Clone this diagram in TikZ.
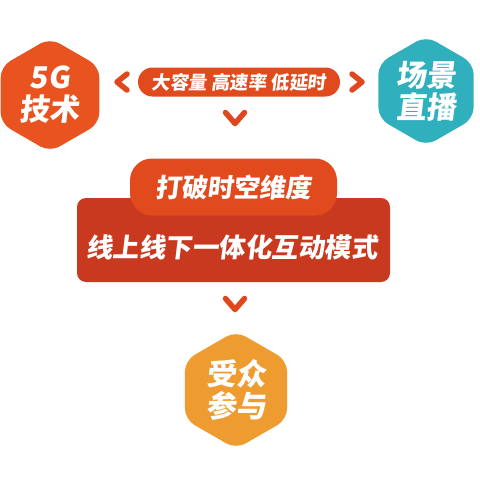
\documentclass[tikz,border=0pt]{standalone}
\usepackage{fontspec}
\newfontfamily\cjk[FakeSlant=0.12]{Noto Sans CJK SC}[BoldFont={Noto Sans CJK SC Black}]
\usetikzlibrary{calc}
\definecolor{hexred}{HTML}{E8531F}
\definecolor{hexteal}{HTML}{2FB0BC}
\definecolor{hexorange}{HTML}{EE9B2F}
\definecolor{pillred}{HTML}{E04A1D}
\definecolor{boxred}{HTML}{C9391F}
\definecolor{chev}{HTML}{E0471E}
\tikzset{
  hexfill/.style={rounded corners=11pt},
  hextext/.style={text=white, font=\cjk\bfseries\fontsize{30}{35}\selectfont, align=center, inner sep=0pt},
  chevron/.style={draw=chev, line width=5.5pt, line cap=round, line join=round},
}
\newcommand{\myhex}[4]{% center x, center y, radius, color
  \fill[#4, hexfill] ($(#1,#2)+(90:#3)$) -- ($(#1,#2)+(150:#3)$) -- ($(#1,#2)+(210:#3)$) -- ($(#1,#2)+(270:#3)$) -- ($(#1,#2)+(330:#3)$) -- ($(#1,#2)+(30:#3)$) -- cycle;}
\begin{document}
\begin{tikzpicture}[x=1pt,y=-1pt]
\useasboundingbox[fill=white] (0,0) rectangle (480,480);
% hexagons
\myhex{50}{95}{57}{hexred}
\myhex{426}{91}{55}{hexteal}
\myhex{236}{390}{59}{hexorange}
\node[hextext] (tech) at (50,95) {5G\\[-3pt]技术};
\node[hextext] (scene) at (426,91) {场景\\[-3pt]直播};
\node[hextext] (aud) at (236,390) {受众\\[-3pt]参与};
% top pill
\node[fill=pillred, rounded corners=14.5pt, minimum width=202pt, minimum height=29pt, inner sep=0pt,
  text=white, font=\cjk\bfseries\fontsize{18.5}{22}\selectfont] (feat) at (239,82) {大容量 高速率 低延时};
% chevrons
\coordinate (lc) at (117,82);
\coordinate (rc) at (362,82);
\coordinate (dc1) at (235,119);
\coordinate (dc2) at (235,305);
\draw[chevron] ($(lc)+(10,-8)$) -- (lc) -- ($(lc)+(10,8)$);
\draw[chevron] ($(rc)+(-10,-8)$) -- (rc) -- ($(rc)+(-10,8)$);
\draw[chevron] ($(dc1)+(-9.5,-6.5)$) -- ($(dc1)+(0,4.5)$) -- ($(dc1)+(9.5,-6.5)$);
\draw[chevron] ($(dc2)+(-9.5,-6.5)$) -- ($(dc2)+(0,4.5)$) -- ($(dc2)+(9.5,-6.5)$);
% middle block
\node[fill=boxred, rounded corners=9pt, minimum width=313pt, minimum height=84pt, inner sep=0pt] (box) at (233.5,240) {};
\node[fill=pillred, rounded corners=22pt, minimum width=207pt, minimum height=57pt, inner sep=0pt,
  text=white, font=\cjk\bfseries\fontsize{26}{30}\selectfont] (break) at (233.5,187) {打破时空维度};
\node[text=white, font=\cjk\bfseries\fontsize{26.5}{30}\selectfont, inner sep=0pt] (mode) at (232,247) {线上线下一体化互动模式};
\end{tikzpicture}
\end{document}
